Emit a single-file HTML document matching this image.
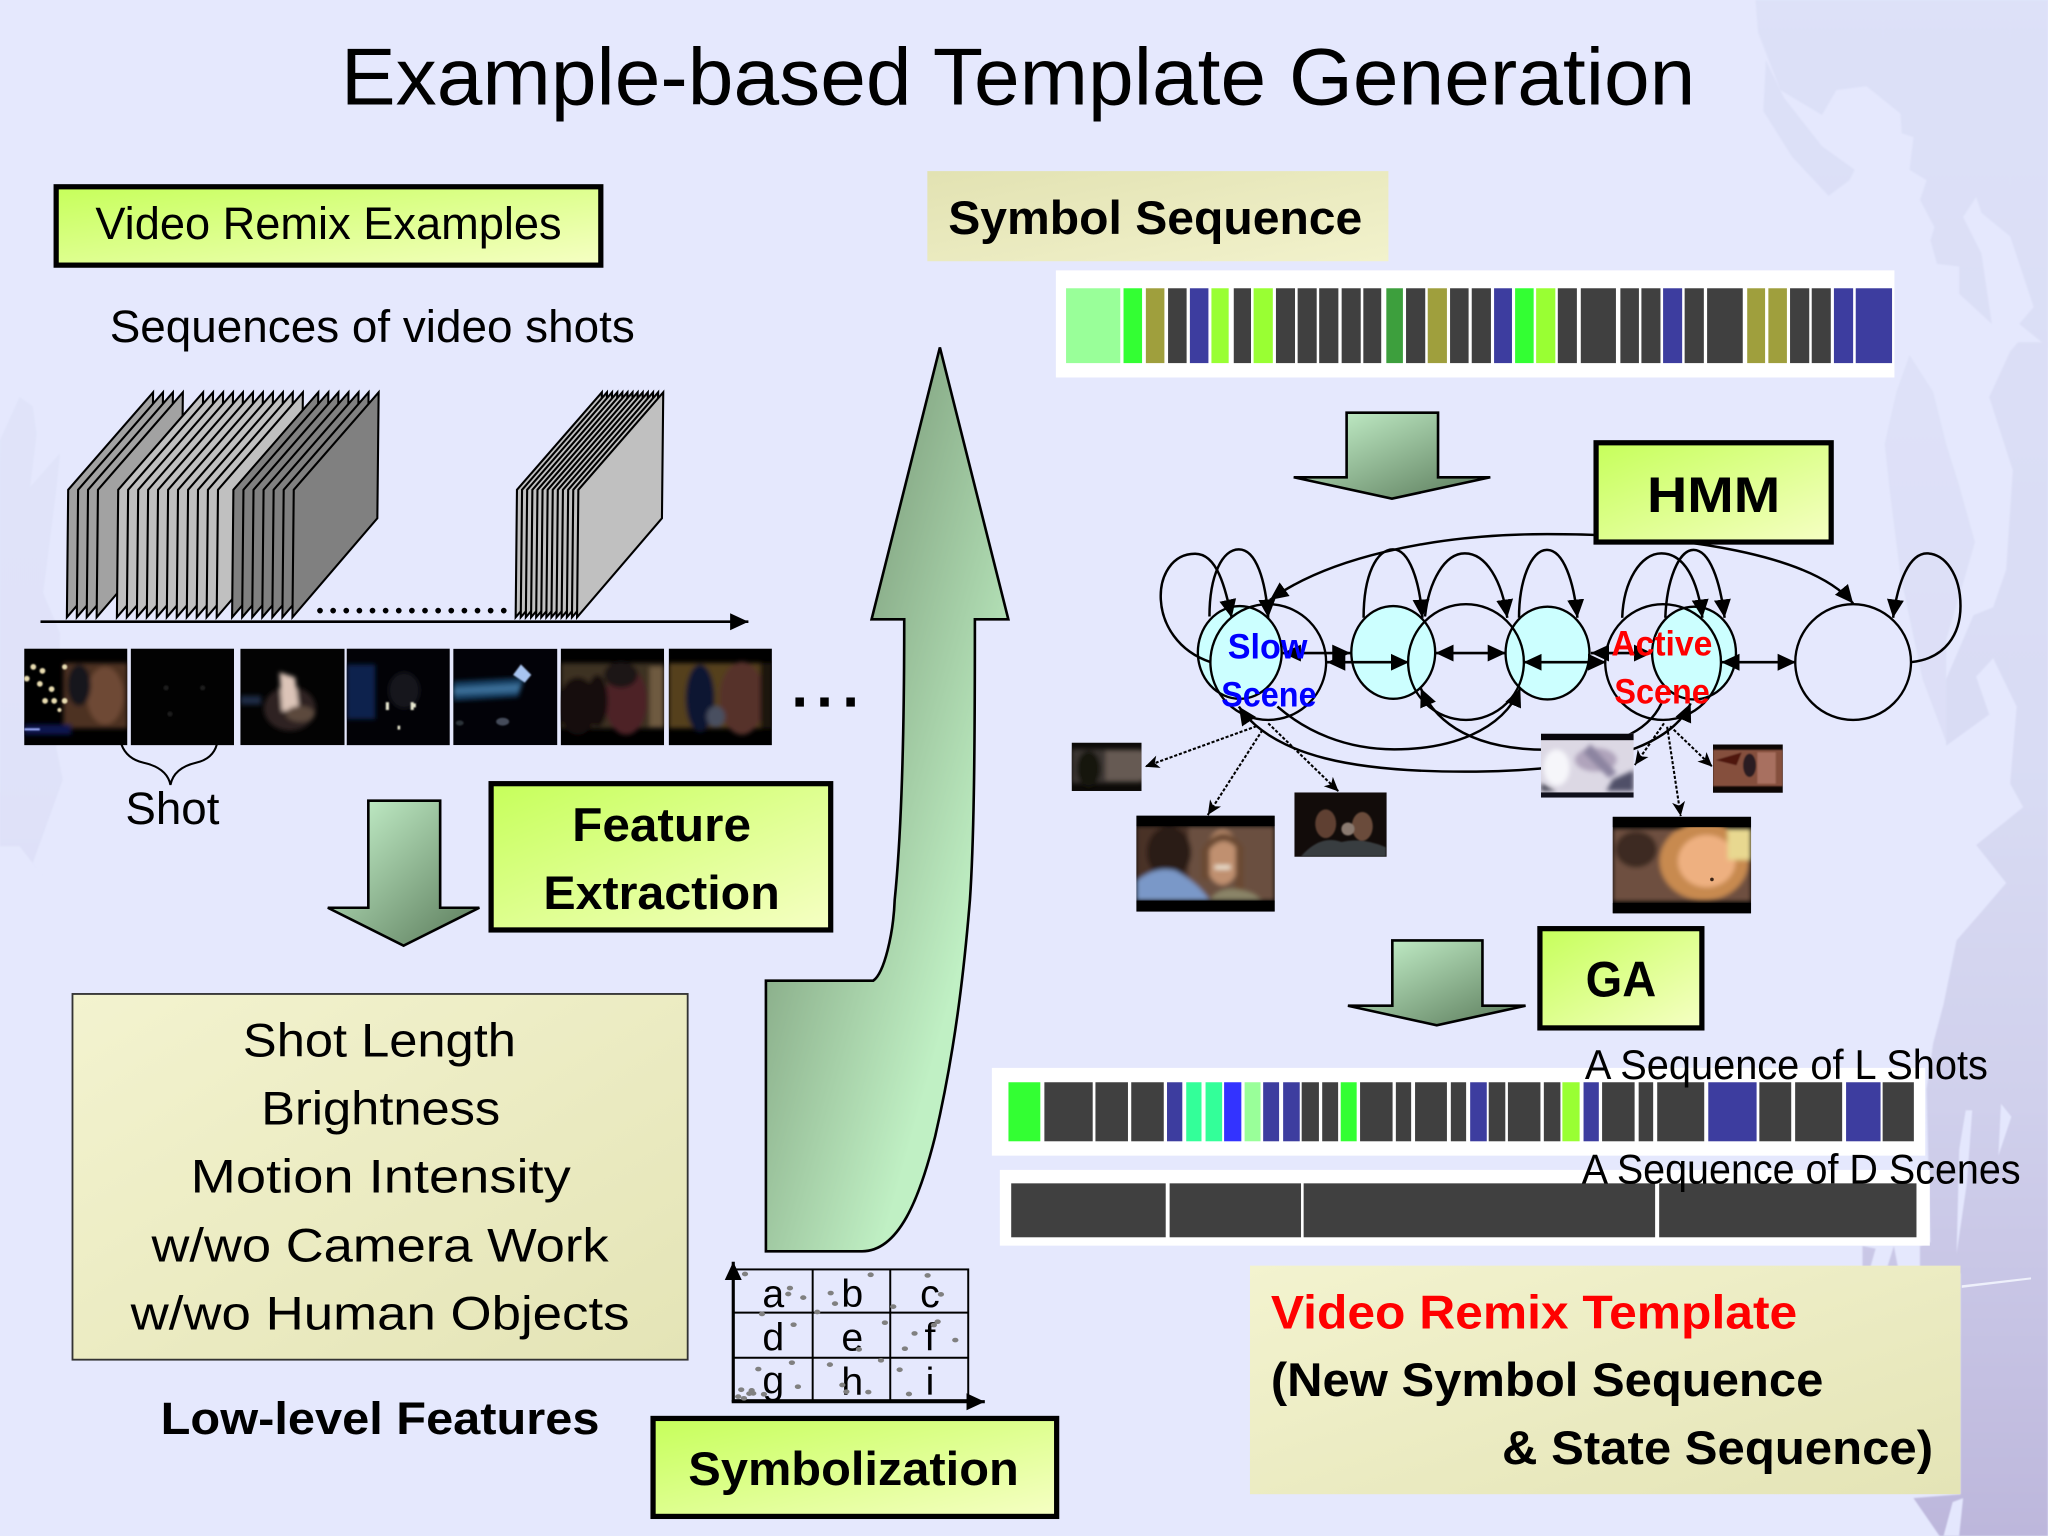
<!DOCTYPE html>
<html><head><meta charset="utf-8"><title>Example-based Template Generation</title>
<style>
html,body{margin:0;padding:0;background:#e5e8fd}
svg{display:block}
text{font-family:"Liberation Sans",sans-serif;fill:#000}
.b{font-weight:bold}
</style></head><body>
<svg xmlns="http://www.w3.org/2000/svg" width="2048" height="1536" viewBox="0 0 1568 1176">
<defs>
<linearGradient id="y" x1="0" y1="0" x2="1" y2="1"><stop offset="0" stop-color="#c6ff5a"/><stop offset="1" stop-color="#f6ffc4"/></linearGradient>
<linearGradient id="k1" x1="0" y1="0" x2="1" y2="1"><stop offset="0" stop-color="#f3f3cf"/><stop offset="1" stop-color="#e4e4b6"/></linearGradient>
<linearGradient id="k2" x1="0" y1="0" x2="1" y2="1"><stop offset="0" stop-color="#e2e2b2"/><stop offset="1" stop-color="#f2f2cc"/></linearGradient>
<linearGradient id="ga" x1="0" y1="0" x2="1" y2="1"><stop offset="0" stop-color="#ccf9d2"/><stop offset="1" stop-color="#587858"/></linearGradient>
<linearGradient id="gb" gradientUnits="userSpaceOnUse" x1="586" y1="750" x2="722" y2="788"><stop offset="0" stop-color="#8cb08c"/><stop offset="1" stop-color="#c0f0c4"/></linearGradient>
<linearGradient id="bgv" gradientUnits="userSpaceOnUse" x1="0" y1="0" x2="0" y2="1176"><stop offset="0" stop-color="#dde1f8"/><stop offset=".5" stop-color="#d9dcf4"/><stop offset=".72" stop-color="#d0d0ec"/><stop offset="1" stop-color="#bdb7dc"/></linearGradient>
<filter id="bl" x="-10%" y="-10%" width="120%" height="120%"><feGaussianBlur stdDeviation="1.8"/></filter>
<filter id="bs" x="-10%" y="-10%" width="120%" height="120%"><feGaussianBlur stdDeviation="0.7"/></filter>
<marker id="h" markerUnits="userSpaceOnUse" markerWidth="15" markerHeight="14" refX="14" refY="7" orient="auto-start-reverse"><path d="M0 0.5L14 7L0 13.5Z" fill="#000"/></marker>
<marker id="d" markerUnits="userSpaceOnUse" markerWidth="12" markerHeight="12" refX="11" refY="6" orient="auto"><path d="M0 1L11 6L0 11L3 6Z" fill="#000"/></marker>
<polygon id="sh" points="0,472.6 1,375 66,300.4 65,396.8" stroke="#000" stroke-width="1.6" stroke-linejoin="miter"/>
</defs>

<rect width="1568" height="1176" fill="#e5e8fd"/>
<!-- background texture -->
<g fill="url(#bgv)" filter="url(#bs)">
<path d="M1344 0L1346 25L1363 69L1395 88L1406 69L1429 66L1455 87L1456 102L1465 105L1462 130L1475 138L1470 153L1481 174L1478 184L1483 202L1500 204L1500 225L1525 248L1517 194L1503 166L1513 151L1517 163L1539 181L1557 235L1546 248L1568 266L1568 0Z"/>
<path d="M1352 46L1366 75L1395 112L1420 130L1416 138L1400 150L1372 120L1350 85Z"/>
<path d="M1568 262L1545 262L1539 269L1523 304L1541 360L1536 436L1526 465L1511 471L1490 520L1490 571L1523 547L1513 518L1526 504L1544 541L1539 600L1549 618L1513 647L1536 676L1518 697L1498 720L1488 769L1480 799L1475 834L1478 951L1470 954L1470 975L1501 975L1501 1144L1465 1147L1485 1176L1568 1176Z"/>
<path d="M1426 954L1436 956L1432 970L1426 970Z"/><path d="M1445 970L1450 954L1453 970Z"/>
<path d="M1447 377L1443 340L1452 300L1462 272L1480 300L1490 340L1500 372L1512 415L1506 436L1490 490L1490 568L1472 520L1455 440Z" opacity=".75"/>
<path d="M0 337L15 304L25 311L28 332L23 373L46 347L43 375L33 454L46 485L43 572L48 597L25 661L33 671L15 648L0 648Z" opacity=".45"/>
</g>
<g fill="#e4e7fd" filter="url(#bs)">
<path d="M1500 880L1505 850L1510 850L1506 905L1498 960Z"/>
<path d="M1532 845L1540 855L1530 885Z"/>
<path d="M1488 1176L1495 1150L1503 1147L1500 1176Z"/>
</g>
<path d="M1502 984L1555 978L1555 979.5L1502 986Z" fill="#eef0fb"/>

<text x="261" y="80" font-size="62" textLength="1037" lengthAdjust="spacingAndGlyphs">Example-based Template Generation</text>

<!-- left column -->
<rect x="43" y="143" width="417" height="60" fill="url(#y)" stroke="#000" stroke-width="4"/>
<text x="73" y="183" font-size="35" textLength="357" lengthAdjust="spacingAndGlyphs">Video Remix Examples</text>
<text x="84" y="262" font-size="35" textLength="402" lengthAdjust="spacingAndGlyphs">Sequences of video shots</text>

<g fill="#a2a2a2">
<use href="#sh" x="51.2"/><use href="#sh" x="58.8"/><use href="#sh" x="66.4"/><use href="#sh" x="74"/>
</g>
<g fill="#c0c0c0">
<use href="#sh" x="89.5"/><use href="#sh" x="97.1"/><use href="#sh" x="104.8"/><use href="#sh" x="112.4"/><use href="#sh" x="120"/><use href="#sh" x="127.7"/><use href="#sh" x="135.3"/><use href="#sh" x="143"/><use href="#sh" x="150.6"/><use href="#sh" x="158.2"/><use href="#sh" x="165.9"/>
</g>
<g fill="#808080">
<use href="#sh" x="177.7"/><use href="#sh" x="185.4"/><use href="#sh" x="193.1"/><use href="#sh" x="200.8"/><use href="#sh" x="208.5"/><use href="#sh" x="216.2"/><use href="#sh" x="223.9"/>
</g>
<g fill="#c0c0c0">
<use href="#sh" x="394.8"/><use href="#sh" x="398.7"/><use href="#sh" x="402.6"/><use href="#sh" x="406.6"/><use href="#sh" x="410.5"/><use href="#sh" x="414.4"/><use href="#sh" x="418.3"/><use href="#sh" x="422.2"/><use href="#sh" x="426.1"/><use href="#sh" x="430"/><use href="#sh" x="434"/><use href="#sh" x="437.9"/><use href="#sh" x="441.8"/>
</g>
<line x1="31" y1="476" x2="573" y2="476" stroke="#000" stroke-width="2" marker-end="url(#h)"/>
<line x1="245" y1="467.5" x2="386" y2="467.5" stroke="#000" stroke-width="4.4" stroke-linecap="round" stroke-dasharray="0 10.05"/>

<!-- film strip -->
<svg x="18.5" y="496.6" width="79" height="74" viewBox="0 0 79 74"><rect width="79" height="74" fill="#000"/><g filter="url(#bl)"><rect x="30" y="11" width="49" height="50" fill="#4e3322"/><ellipse cx="62" cy="36" rx="14" ry="22" fill="#6e4a34"/><rect x="0" y="58" width="36" height="8" fill="#0a1450"/><ellipse cx="42" cy="28" rx="9" ry="16" fill="#14141c"/></g><g filter="url(#bs)"><rect x="0" y="61" width="12" height="1.6" fill="#a0b0ff"/><g fill="#e8dcb0"><circle cx="7" cy="14" r="2.2"/><circle cx="14" cy="17" r="2.2"/><circle cx="2" cy="23" r="2.2"/><circle cx="12" cy="27" r="2.2"/><circle cx="21" cy="31" r="2.2"/><circle cx="16" cy="40" r="2.2"/><circle cx="23" cy="40" r="2.2"/><circle cx="31" cy="40" r="2.2"/><circle cx="31" cy="14" r="2"/><circle cx="27" cy="47" r="1.6"/></g></g></svg>
<svg x="100" y="496.6" width="79.3" height="74" viewBox="0 0 79 74"><rect width="79" height="74" fill="#020202"/><g filter="url(#bs)" fill="#1a1a1a"><circle cx="27" cy="30" r="2"/><circle cx="55" cy="30" r="2"/><circle cx="30" cy="50" r="2"/></g></svg>
<svg x="184" y="496.6" width="79.8" height="74" viewBox="0 0 80 74"><rect width="80" height="74" fill="#030303"/><g filter="url(#bl)"><ellipse cx="38" cy="46" rx="20" ry="17" fill="#2e2420"/><rect x="0" y="36" width="16" height="7" fill="#1a2c44"/><path d="M30 18L42 22L45 46L32 48Z" fill="#dcc4b8"/><ellipse cx="46" cy="50" rx="11" ry="6" fill="#5c4a3e"/></g></svg>
<svg x="265.4" y="496.6" width="79" height="74" viewBox="0 0 79 74"><rect width="79" height="74" fill="#020206"/><g filter="url(#bl)"><rect x="0" y="12" width="22" height="42" fill="#08204e"/><ellipse cx="44" cy="32" rx="12" ry="14" fill="#12161e"/></g><g fill="#e8e8d0" filter="url(#bs)"><rect x="30" y="41" width="2.4" height="6"/><rect x="49" y="41" width="2.4" height="6"/><rect x="51" y="42" width="2" height="3"/><rect x="39" y="59" width="2" height="3"/></g></svg>
<svg x="347" y="496.6" width="79.7" height="74" viewBox="0 0 80 74"><rect width="80" height="74" fill="#020208"/><g filter="url(#bl)"><path d="M0 25L55 22L50 37L0 40Z" fill="#123e60"/><path d="M0 30L52 27L50 33L0 35Z" fill="#3a6e98"/></g><g filter="url(#bs)"><path d="M46 20L52 12L60 20L55 26Z" fill="#a8c4f0"/><ellipse cx="38" cy="56" rx="5" ry="3" fill="#454c5a"/><ellipse cx="5" cy="57" rx="3" ry="2" fill="#2a3038"/></g></svg>
<svg x="429.2" y="496.6" width="79.4" height="74" viewBox="0 0 79 74"><rect width="79" height="74" fill="#000"/><g filter="url(#bl)"><rect x="0" y="11" width="79" height="50" fill="#3e3024"/><ellipse cx="13" cy="44" rx="15" ry="22" fill="#120a0c"/><ellipse cx="50" cy="40" rx="16" ry="26" fill="#4e2226"/><ellipse cx="46" cy="20" rx="13" ry="10" fill="#1c1216"/><rect x="68" y="14" width="11" height="46" fill="#6e5a40"/><ellipse cx="28" cy="40" rx="8" ry="20" fill="#150c10"/></g></svg>
<svg x="512" y="496.6" width="79" height="74" viewBox="0 0 79 74"><rect width="79" height="74" fill="#000"/><g filter="url(#bl)"><rect x="0" y="11" width="79" height="50" fill="#54401f"/><ellipse cx="24" cy="38" rx="11" ry="26" fill="#0c1230"/><ellipse cx="56" cy="38" rx="17" ry="28" fill="#56302a"/><ellipse cx="36" cy="52" rx="7" ry="8" fill="#4a5060"/><rect x="70" y="11" width="9" height="50" fill="#1c1410"/></g></svg>
<g fill="#000"><rect x="609" y="534" width="6.5" height="7"/><rect x="628" y="534" width="6.5" height="7"/><rect x="648" y="534" width="6.5" height="7"/></g>
<path d="M93 570Q97 581 110 584Q128 588 130.5 601Q133 588 150 584Q163 581 166 570" fill="none" stroke="#000" stroke-width="1.6"/>
<text x="96" y="631" font-size="35" textLength="72" lengthAdjust="spacingAndGlyphs">Shot</text>

<!-- arrow 1 -->
<path d="M282 613H337V695H367L309 724L251 695H282Z" fill="url(#ga)" stroke="#000" stroke-width="2"/>
<rect x="376" y="600" width="260" height="112" fill="url(#y)" stroke="#000" stroke-width="4"/>
<text class="b" x="438" y="644" font-size="36" textLength="137" lengthAdjust="spacingAndGlyphs">Feature</text>
<text class="b" x="416" y="696" font-size="36" textLength="181" lengthAdjust="spacingAndGlyphs">Extraction</text>

<rect x="55.5" y="761" width="471" height="280" fill="url(#k1)" stroke="#333" stroke-width="1.4"/>
<g font-size="36">
<text x="186" y="809" textLength="209" lengthAdjust="spacingAndGlyphs">Shot Length</text>
<text x="200" y="861" textLength="183" lengthAdjust="spacingAndGlyphs">Brightness</text>
<text x="146" y="913" textLength="291" lengthAdjust="spacingAndGlyphs">Motion Intensity</text>
<text x="116" y="966" textLength="350" lengthAdjust="spacingAndGlyphs">w/wo Camera Work</text>
<text x="100" y="1018" textLength="382" lengthAdjust="spacingAndGlyphs">w/wo Human Objects</text>
</g>
<text class="b" x="123" y="1098" font-size="35" textLength="336" lengthAdjust="spacingAndGlyphs">Low-level Features</text>

<!-- big arrow -->
<path d="M719.6 266L772 474.2H746.4C746.4 560 746 640 742.6 689C738 745 731 805 716 870C704 918 688 958 660 958H586.4V750.8H668.6C677 745 684 715 685 689C690 640 692.3 560 692.3 474.2H667.3Z" fill="url(#gb)" stroke="#000" stroke-width="2"/>

<!-- grid -->
<g font-size="30" text-anchor="middle">
<text x="592" y="1000.5">a</text><text x="652.5" y="1000.5">b</text><text x="712" y="1000.5">c</text>
<text x="592" y="1034">d</text><text x="652.5" y="1034">e</text><text x="712" y="1034">f</text>
<text x="592" y="1067">g</text><text x="652.5" y="1068">h</text><text x="712" y="1068">i</text>
</g>
<rect x="558" y="1074.5" width="190" height="10" fill="#e5e8fd"/>
<g fill="none" stroke="#000" stroke-width="1.5">
<rect x="561.4" y="971.9" width="179.9" height="100.1"/>
<line x1="622.2" y1="971.9" x2="622.2" y2="1072"/><line x1="681.6" y1="971.9" x2="681.6" y2="1072"/>
<line x1="561.4" y1="1005" x2="741.3" y2="1005"/><line x1="561.4" y1="1039.5" x2="741.3" y2="1039.5"/>
</g>
<line x1="561.4" y1="1073.2" x2="561.4" y2="966" stroke="#000" stroke-width="2.4" marker-end="url(#h)"/>
<line x1="560.2" y1="1073.2" x2="754" y2="1073.2" stroke="#000" stroke-width="2.4" marker-end="url(#h)"/>
<g fill="#808080">
<ellipse cx="570.4" cy="975.4" rx="2.4" ry="1.8"/><ellipse cx="604.8" cy="986.2" rx="2.4" ry="1.8"/><ellipse cx="603.5" cy="990.7" rx="2.4" ry="1.8"/><ellipse cx="615" cy="993.5" rx="2.4" ry="1.8"/><ellipse cx="583.4" cy="1006" rx="2.4" ry="1.8"/><ellipse cx="666.6" cy="976" rx="2.4" ry="1.8"/><ellipse cx="636" cy="990" rx="2.4" ry="1.8"/><ellipse cx="639.3" cy="998.1" rx="2.4" ry="1.8"/><ellipse cx="625.7" cy="1004.5" rx="2.4" ry="1.8"/><ellipse cx="683.9" cy="1000.4" rx="2.4" ry="1.8"/><ellipse cx="710.2" cy="976.5" rx="2.4" ry="1.8"/><ellipse cx="720.4" cy="991" rx="2.4" ry="1.8"/><ellipse cx="607.6" cy="1014.2" rx="2.4" ry="1.8"/><ellipse cx="677.5" cy="1012.7" rx="2.4" ry="1.8"/><ellipse cx="717.9" cy="1011.9" rx="2.4" ry="1.8"/><ellipse cx="715" cy="1014.5" rx="2.4" ry="1.8"/><ellipse cx="700.2" cy="1020.9" rx="2.4" ry="1.8"/><ellipse cx="731.4" cy="1026" rx="2.4" ry="1.8"/><ellipse cx="692.8" cy="1032.6" rx="2.4" ry="1.8"/><ellipse cx="657.6" cy="1033.1" rx="2.4" ry="1.8"/><ellipse cx="606.3" cy="1043.3" rx="2.4" ry="1.8"/><ellipse cx="580.6" cy="1048.2" rx="2.4" ry="1.8"/><ellipse cx="635.4" cy="1044.8" rx="2.4" ry="1.8"/><ellipse cx="674.5" cy="1041.5" rx="2.4" ry="1.8"/><ellipse cx="688.8" cy="1048.7" rx="2.4" ry="1.8"/><ellipse cx="610.9" cy="1061.7" rx="2.4" ry="1.8"/><ellipse cx="567.5" cy="1064" rx="2.4" ry="1.8"/><ellipse cx="575.5" cy="1064.5" rx="2.4" ry="1.8"/><ellipse cx="573.7" cy="1067" rx="2.4" ry="1.8"/><ellipse cx="576.7" cy="1066.8" rx="2.4" ry="1.8"/><ellipse cx="584.9" cy="1067.5" rx="2.4" ry="1.8"/><ellipse cx="565.2" cy="1069.3" rx="2.4" ry="1.8"/><ellipse cx="569.6" cy="1070.6" rx="2.4" ry="1.8"/><ellipse cx="644.9" cy="1060.4" rx="2.4" ry="1.8"/><ellipse cx="648" cy="1065.5" rx="2.4" ry="1.8"/><ellipse cx="664.8" cy="1065.8" rx="2.4" ry="1.8"/><ellipse cx="695.9" cy="1067.3" rx="2.4" ry="1.8"/>
</g>
<rect x="500" y="1086" width="309" height="75" fill="url(#y)" stroke="#000" stroke-width="4"/>
<text class="b" x="527" y="1137" font-size="36" textLength="253" lengthAdjust="spacingAndGlyphs">Symbolization</text>

<!-- right top -->
<rect x="710" y="131" width="353" height="69" fill="url(#k2)"/>
<text class="b" x="726" y="179" font-size="36" textLength="317" lengthAdjust="spacingAndGlyphs">Symbol Sequence</text>

<rect x="808.4" y="207" width="642" height="82" fill="#fff"/>
<g>
<rect x="816.2" y="220.7" width="41.5" height="57.3" fill="#99ff99"/>
<rect x="860.2" y="220.7" width="14.2" height="57.3" fill="#33ff33"/>
<rect x="877.3" y="220.7" width="14.2" height="57.3" fill="#9f9f3d"/>
<rect x="894.3" y="220.7" width="14.2" height="57.3" fill="#404040"/>
<rect x="911" y="220.7" width="14.2" height="57.3" fill="#3d3d9f"/>
<rect x="927.5" y="220.7" width="13.2" height="57.3" fill="#99ff33"/>
<rect x="944.6" y="220.7" width="13.2" height="57.3" fill="#404040"/>
<rect x="959.8" y="220.7" width="14.7" height="57.3" fill="#99ff33"/>
<rect x="976.9" y="220.7" width="14.6" height="57.3" fill="#404040"/>
<rect x="993.5" y="220.7" width="14.6" height="57.3" fill="#404040"/>
<rect x="1010" y="220.7" width="14.7" height="57.3" fill="#404040"/>
<rect x="1027.2" y="220.7" width="14.6" height="57.3" fill="#404040"/>
<rect x="1043.8" y="220.7" width="13.7" height="57.3" fill="#404040"/>
<rect x="1061.4" y="220.7" width="12.7" height="57.3" fill="#3d9f3d"/>
<rect x="1076.5" y="220.7" width="14.7" height="57.3" fill="#404040"/>
<rect x="1093.1" y="220.7" width="14.7" height="57.3" fill="#9f9f3d"/>
<rect x="1110.2" y="220.7" width="14.2" height="57.3" fill="#404040"/>
<rect x="1126.8" y="220.7" width="14.7" height="57.3" fill="#404040"/>
<rect x="1143.9" y="220.7" width="13.7" height="57.3" fill="#3d3d9f"/>
<rect x="1160" y="220.7" width="14.2" height="57.3" fill="#33ff33"/>
<rect x="1176.1" y="220.7" width="14.7" height="57.3" fill="#99ff33"/>
<rect x="1192.7" y="220.7" width="14.6" height="57.3" fill="#404040"/>
<rect x="1210.3" y="220.7" width="26.9" height="57.3" fill="#404040"/>
<rect x="1240.6" y="220.7" width="14.2" height="57.3" fill="#404040"/>
<rect x="1256.7" y="220.7" width="14.6" height="57.3" fill="#404040"/>
<rect x="1273.3" y="220.7" width="14.6" height="57.3" fill="#3d3d9f"/>
<rect x="1289.8" y="220.7" width="14.7" height="57.3" fill="#404040"/>
<rect x="1307" y="220.7" width="27.3" height="57.3" fill="#404040"/>
<rect x="1337.7" y="220.7" width="13.7" height="57.3" fill="#9f9f3d"/>
<rect x="1353.9" y="220.7" width="14.2" height="57.3" fill="#9f9f3d"/>
<rect x="1370.5" y="220.7" width="14.7" height="57.3" fill="#404040"/>
<rect x="1387.1" y="220.7" width="14.6" height="57.3" fill="#404040"/>
<rect x="1404.1" y="220.7" width="14.7" height="57.3" fill="#3d3d9f"/>
<rect x="1420.8" y="220.7" width="27.8" height="57.3" fill="#3d3d9f"/>
</g>

<path d="M1031 316H1101V365.4H1141L1065.7 381.8L990.5 365.4H1031Z" fill="url(#ga)" stroke="#000" stroke-width="2"/>

<!-- HMM graph -->
<g fill="#ccffff" stroke="#000" stroke-width="1.8">
<ellipse cx="949.2" cy="499.5" rx="32.1" ry="35.5"/>
<ellipse cx="1066.7" cy="499.5" rx="32.1" ry="35.5"/>
<ellipse cx="1184.8" cy="500" rx="32.1" ry="35.5"/>
<ellipse cx="1297" cy="500" rx="32.1" ry="35.5"/>
</g>
<g fill="none" stroke="#000" stroke-width="1.8">
<circle cx="971" cy="506.9" r="44.3"/>
<circle cx="1122.4" cy="506.9" r="44.3"/>
<circle cx="1273.3" cy="506.9" r="44.3"/>
<circle cx="1418.8" cy="506.9" r="44.3"/>
</g>
<g fill="none" stroke="#000" stroke-width="1.9">
<path d="M927 507C876 490 880 424 915 424C932 424 938 450 943 473" marker-end="url(#h)"/>
<path d="M926 472C926 440 936 420.6 948.5 420.6C962 420.6 969 445 971 473" marker-end="url(#h)"/>
<path d="M1044 473C1044 440 1054 420.6 1066.6 420.6C1079 420.6 1087 445 1089 473" marker-end="url(#h)"/>
<path d="M1091 472C1094 445 1106 423.7 1121.5 423.7C1138 423.7 1150 445 1154 473" marker-end="url(#h)"/>
<path d="M1163 473C1163 445 1172 421 1184.3 421C1197 421 1205 445 1207.7 473" marker-end="url(#h)"/>
<path d="M1242 473C1243 445 1256 423.7 1272 423.7C1290 423.7 1300 445 1303.4 473" marker-end="url(#h)"/>
<path d="M1275 473C1276 445 1285 421 1296.6 421C1309 421 1317 445 1320.4 473" marker-end="url(#h)"/>
<path d="M1463.7 506.9C1490 504 1501 485 1501 464C1501 440 1489 423.7 1475.4 423.7C1462 423.7 1453 445 1449.4 473" marker-end="url(#h)"/>
<path d="M972.3 459.4C1015 428 1095 408.9 1184.3 408.9C1290 408.9 1388 425 1418.8 462" marker-start="url(#h)" marker-end="url(#h)"/>
<path d="M978 541C1000 560 1030 573.7 1067.5 573.7C1110 573.7 1150 560 1164 527" marker-end="url(#h)"/>
<path d="M1294.4 538.5C1285 560 1250 590.8 1121.5 590.8C1040 590.8 975 580 948.5 541" marker-start="url(#h)" marker-end="url(#h)"/>
<path d="M1272 538.5C1262 560 1235 574 1184 574C1130 574 1100 555 1087.8 527" marker-end="url(#h)"/>
</g>
<g stroke="#000" stroke-width="2" marker-start="url(#h)" marker-end="url(#h)">
<line x1="1016" y1="507" x2="1078.8" y2="507"/>
<line x1="982" y1="500" x2="1034" y2="500"/>
<line x1="1099" y1="500" x2="1153" y2="500"/>
<line x1="1166.4" y1="507" x2="1229.7" y2="507"/>
<line x1="1218" y1="500" x2="1265" y2="500"/>
<line x1="1317.8" y1="507" x2="1375" y2="507"/>
</g>
<g class="b" font-size="27" font-weight="bold">
<text x="940" y="504" style="fill:#0000ff" textLength="61" lengthAdjust="spacingAndGlyphs">Slow</text>
<text x="935" y="541" style="fill:#0000ff" textLength="73" lengthAdjust="spacingAndGlyphs">Scene</text>
<text x="1233.7" y="502" style="fill:#ff0000" textLength="77.3" lengthAdjust="spacingAndGlyphs">Active</text>
<text x="1236" y="538.5" style="fill:#ff0000" textLength="73" lengthAdjust="spacingAndGlyphs">Scene</text>
</g>
<g stroke="#000" stroke-width="1.6" stroke-dasharray="2.4 1.4" fill="none">
<line x1="962" y1="556" x2="876.6" y2="587" marker-end="url(#d)"/>
<line x1="966.5" y1="559" x2="924.7" y2="624" marker-end="url(#d)"/>
<line x1="971" y1="553.8" x2="1024.9" y2="606" marker-end="url(#d)"/>
<line x1="1274" y1="553.8" x2="1251.7" y2="585.7" marker-end="url(#d)"/>
<line x1="1276.4" y1="556.4" x2="1286.8" y2="624.8" marker-end="url(#d)"/>
<line x1="1278.7" y1="556" x2="1311" y2="587" marker-end="url(#d)"/>
</g>
<!-- small thumbs -->
<svg x="820.5" y="568.6" width="53.5" height="37" viewBox="0 0 53.5 37"><rect width="53.5" height="37" fill="#0c0a08"/><g filter="url(#bl)"><rect x="0" y="5" width="53.5" height="26" fill="#3a3630"/><rect x="26" y="6" width="30" height="23" fill="#665a52"/><ellipse cx="13" cy="20" rx="9" ry="14" fill="#141210"/></g></svg>
<svg x="870" y="624.5" width="106" height="73.5" viewBox="0 0 106 73.5"><rect width="106" height="73.5" fill="#000"/><g filter="url(#bl)"><rect x="0" y="8" width="106" height="57" fill="#6a5040"/><rect x="0" y="8" width="40" height="57" fill="#4a3028"/><ellipse cx="25" cy="28" rx="17" ry="20" fill="#2a1c18"/><path d="M0 50Q15 38 30 42Q48 52 56 65H0Z" fill="#7a98c8"/><ellipse cx="66" cy="32" rx="13" ry="21" fill="#c09070"/><path d="M50 26Q66 2 82 24L82 60L76 60L76 24Q66 14 56 26L56 50L50 48Z" fill="#6a4a30"/><rect x="60" y="38" width="12" height="3" fill="#f0e8d8"/><path d="M56 65Q66 50 90 60L96 65Z" fill="#8a8468"/></g><rect y="0" width="106" height="8" fill="#000"/><rect y="65" width="106" height="8.5" fill="#000"/></svg>
<svg x="991" y="606.7" width="70.7" height="49.3" viewBox="0 0 70.7 49.3"><rect width="70.7" height="49.3" fill="#120c0a"/><g filter="url(#bs)"><ellipse cx="24" cy="24" rx="8" ry="11" fill="#5e4032"/><ellipse cx="52" cy="26" rx="8" ry="11" fill="#6a4c3a"/><ellipse cx="41" cy="28" rx="5" ry="5" fill="#8a7a70"/><path d="M5 49Q20 32 36 38Q52 34 70 42V49Z" fill="#383c40"/></g></svg>
<svg x="1179.8" y="561.7" width="71" height="49" viewBox="0 0 71 49"><rect width="71" height="49" fill="#dcd8e4"/><g filter="url(#bl)"><ellipse cx="42" cy="20" rx="16" ry="9" fill="#b0a4bc"/><path d="M38 8L58 30L52 34L32 14Z" fill="#8c84a0"/><ellipse cx="12" cy="26" rx="10" ry="14" fill="#f6f6fa"/><path d="M55 35L71 28V44H50Z" fill="#505068"/><path d="M0 38L12 44H0Z" fill="#404050"/></g><rect x="0" y="0" width="71" height="5" fill="#08060c"/><rect x="0" y="45" width="71" height="4" fill="#10101c"/></svg>
<svg x="1311.5" y="570" width="53.5" height="37" viewBox="0 0 53.5 37"><rect width="53.5" height="37" fill="#0c0604"/><g filter="url(#bs)"><rect x="0" y="4" width="53.5" height="28" fill="#85503e"/><path d="M2 12L22 6L18 16Z" fill="#501810"/><ellipse cx="28" cy="16" rx="5" ry="9" fill="#2a1c20"/><rect x="34" y="6" width="14" height="24" fill="#a87060"/></g></svg>
<svg x="1234.7" y="625.3" width="106" height="74" viewBox="0 0 106 74"><rect width="106" height="74" fill="#000"/><g filter="url(#bl)"><rect x="0" y="9" width="106" height="56" fill="#6e5040"/><ellipse cx="70" cy="34" rx="34" ry="30" fill="#c88a50"/><ellipse cx="72" cy="34" rx="22" ry="20" fill="#eeb080"/><rect x="88" y="9" width="18" height="24" fill="#e8d890"/><ellipse cx="18" cy="25" rx="16" ry="14" fill="#3e2c24"/></g><circle cx="76" cy="48" r="1.4" fill="#3a2416"/><rect x="0" y="0" width="106" height="8" fill="#000"/><rect x="0" y="66" width="106" height="8" fill="#000"/></svg>

<rect x="1222" y="339" width="180" height="76" fill="url(#y)" stroke="#000" stroke-width="4"/>
<text class="b" x="1261" y="392" font-size="38" textLength="102" lengthAdjust="spacingAndGlyphs">HMM</text>

<path d="M1066 720H1135V770H1168L1100 785L1032 770H1066Z" fill="url(#ga)" stroke="#000" stroke-width="2"/>
<rect x="1179" y="711" width="124" height="76" fill="url(#y)" stroke="#000" stroke-width="4"/>
<text class="b" x="1214" y="763" font-size="38" textLength="54" lengthAdjust="spacingAndGlyphs">GA</text>

<!-- L bar -->
<rect x="759.4" y="817.6" width="714.6" height="67.2" fill="#fff"/>
<g>
<rect x="772.1" y="828.6" width="24.4" height="45.2" fill="#33ff33"/>
<rect x="799.6" y="828.6" width="37" height="45.2" fill="#404040"/>
<rect x="838.7" y="828.6" width="24.9" height="45.2" fill="#404040"/>
<rect x="866.1" y="828.6" width="24.9" height="45.2" fill="#404040"/>
<rect x="893.5" y="828.6" width="11.7" height="45.2" fill="#3d3d9f"/>
<rect x="908.2" y="828.6" width="11.7" height="45.2" fill="#33ff99"/>
<rect x="923" y="828.6" width="12.7" height="45.2" fill="#33ff99"/>
<rect x="937.2" y="828.6" width="13.2" height="45.2" fill="#3333ff"/>
<rect x="952.9" y="828.6" width="12.2" height="45.2" fill="#99ff99"/>
<rect x="967.1" y="828.6" width="12.2" height="45.2" fill="#3d3d9f"/>
<rect x="982.4" y="828.6" width="12.7" height="45.2" fill="#3d3d9f"/>
<rect x="996.6" y="828.6" width="13.2" height="45.2" fill="#404040"/>
<rect x="1012.3" y="828.6" width="12.2" height="45.2" fill="#404040"/>
<rect x="1026.5" y="828.6" width="12.2" height="45.2" fill="#33ff33"/>
<rect x="1041.3" y="828.6" width="24.9" height="45.2" fill="#404040"/>
<rect x="1068.7" y="828.6" width="11.7" height="45.2" fill="#404040"/>
<rect x="1083.4" y="828.6" width="24.4" height="45.2" fill="#404040"/>
<rect x="1110.8" y="828.6" width="11.7" height="45.2" fill="#404040"/>
<rect x="1125.6" y="828.6" width="12.7" height="45.2" fill="#3d3d9f"/>
<rect x="1139.8" y="828.6" width="12.7" height="45.2" fill="#404040"/>
<rect x="1154.5" y="828.6" width="24.9" height="45.2" fill="#404040"/>
<rect x="1182" y="828.6" width="12.7" height="45.2" fill="#404040"/>
<rect x="1196.2" y="828.6" width="13.2" height="45.2" fill="#99ff33"/>
<rect x="1212.4" y="828.6" width="11.7" height="45.2" fill="#3d3d9f"/>
<rect x="1226.6" y="828.6" width="24.9" height="45.2" fill="#404040"/>
<rect x="1254.6" y="828.6" width="11.1" height="45.2" fill="#404040"/>
<rect x="1268.8" y="828.6" width="36" height="45.2" fill="#404040"/>
<rect x="1307.9" y="828.6" width="37" height="45.2" fill="#3d3d9f"/>
<rect x="1347" y="828.6" width="24.4" height="45.2" fill="#404040"/>
<rect x="1374.4" y="828.6" width="36" height="45.2" fill="#404040"/>
<rect x="1413.4" y="828.6" width="26.4" height="45.2" fill="#3d3d9f"/>
<rect x="1441.4" y="828.6" width="23.9" height="45.2" fill="#404040"/>
</g>
<!-- D bar -->
<rect x="765.5" y="895.7" width="712" height="58" fill="#fff"/>
<g fill="#404040">
<rect x="774.2" y="906" width="118.3" height="41.3"/>
<rect x="895.5" y="906" width="100.6" height="41.3"/>
<rect x="998.1" y="906" width="269.1" height="41.3"/>
<rect x="1270.3" y="906" width="197" height="41.3"/>
</g>
<text x="1213.4" y="826" font-size="32" textLength="308.6" lengthAdjust="spacingAndGlyphs">A Sequence of L Shots</text>
<text x="1211" y="906" font-size="32" textLength="336" lengthAdjust="spacingAndGlyphs">A Sequence of D Scenes</text>

<rect x="957" y="969" width="544" height="175" fill="url(#k1)"/>
<text class="b" x="973" y="1017" font-size="36" style="fill:#ff0000" textLength="403" lengthAdjust="spacingAndGlyphs">Video Remix Template</text>
<text class="b" x="973" y="1069" font-size="36" textLength="423" lengthAdjust="spacingAndGlyphs">(New Symbol Sequence</text>
<text class="b" x="1150" y="1121" font-size="36" textLength="330" lengthAdjust="spacingAndGlyphs">&amp; State Sequence)</text>
</svg>
</body></html>
